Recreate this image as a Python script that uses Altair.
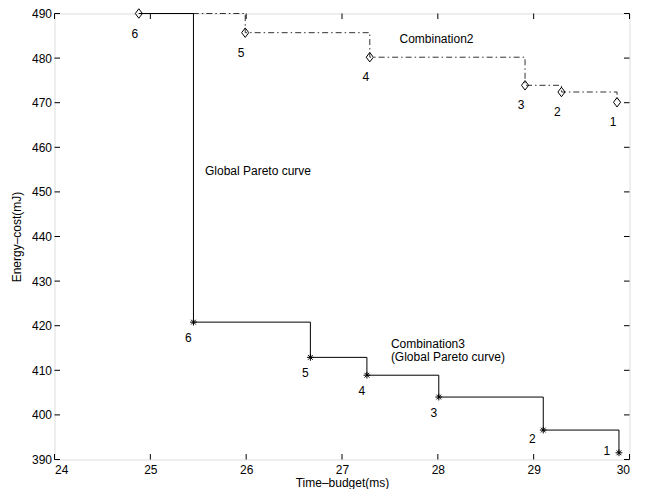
import altair as alt
import pandas as pd

# Combination2 (diamonds)
c2_time = [24.88, 25.99, 27.29, 28.91, 29.29, 29.87]
c2_energy = [490.0, 485.7, 480.2, 473.9, 472.4, 470.1]
c2_ids = ["6", "5", "4", "3", "2", "1"]

# Combination3 / Global Pareto curve (asterisks)
c3_time = [25.45, 26.67, 27.26, 28.01, 29.10, 29.89]
c3_energy = [420.8, 412.9, 408.9, 404.0, 396.6, 391.5]
c3_ids = ["6", "5", "4", "3", "2", "1"]

x_ticks = [24, 25, 26, 27, 28, 29, 30]
y_ticks = [390, 400, 410, 420, 430, 440, 450, 460, 470, 480, 490]

notes_text = ["Combination2", "Global Pareto curve", "Combination3\n(Global Pareto curve)"]
notes_time = [27.60, 25.57, 27.51]
notes_energy = [484.2, 454.7, 415.8]

W, H = 575, 446
FONT = "Liberation Sans"
TL = 5.5

c2 = pd.DataFrame({"t": c2_time, "e": c2_energy, "id": c2_ids})
c3 = pd.DataFrame({"t": c3_time, "e": c3_energy, "id": c3_ids})
link = pd.DataFrame({"t": [c2_time[0], c3_time[0]], "e": [c2_energy[0], c3_energy[0]]})
notes = pd.DataFrame({"t": notes_time, "e": notes_energy, "txt": notes_text})
xt = pd.DataFrame({"t": x_ticks})
yt = pd.DataFrame({"e": y_ticks})

xs = alt.Scale(domain=[24, 30], nice=False, zero=False)
ys = alt.Scale(domain=[390, 490], nice=False, zero=False)

axis_common = dict(grid=False, ticks=False, domain=False,
                   labelFont=FONT, labelFontSize=12, labelColor="black",
                   titleFont=FONT, titleFontSize=12, titleFontWeight="normal",
                   titleColor="black")

X = alt.X("t:Q", scale=xs, axis=alt.Axis(
    values=x_ticks, title="Time\u2013budget(ms)", labelPadding=4.5,
    titleX=W / 2, titleY=22.5, titleBaseline="middle", **axis_common))
Y = alt.Y("e:Q", scale=ys, axis=alt.Axis(
    values=y_ticks, title="Energy\u2013cost(mJ)", labelPadding=3,
    titleX=-38, titleY=H / 2, titleBaseline="middle", **axis_common))

diamond = "M0,-1L0.75,0L0,1L-0.75,0Z"
aster = "M0,-1L0,1M-1,0L1,0M-0.7,-0.7L0.7,0.7M-0.7,0.7L0.7,-0.7"

base2 = alt.Chart(c2)
base3 = alt.Chart(c3)

c2_line = base2.mark_line(interpolate="step-after", color="#333333", strokeWidth=1,
                          strokeDash=[6, 3, 1.5, 3]).encode(x=X, y=Y)
link_line = alt.Chart(link).mark_line(interpolate="step-after", color="black",
                                      strokeWidth=1).encode(x=X, y=Y)
c3_line = base3.mark_line(interpolate="step-after", color="black",
                          strokeWidth=1).encode(x=X, y=Y)

c2_pts = base2.mark_point(shape=diamond, size=90, filled=False, color="black",
                          strokeWidth=1, opacity=1).encode(x=X, y=Y)
c3_pts = base3.mark_point(shape=aster, size=46, filled=False, color="black",
                          strokeWidth=1, opacity=1).encode(x=X, y=Y)

txt_kw = dict(font=FONT, fontSize=12, color="black")
c2_lab = base2.mark_text(dx=-4, dy=20, **txt_kw).encode(x=X, y=Y, text="id:N")
c3_lab_a = base3.transform_filter(
    alt.FieldOneOfPredicate(field="id", oneOf=["6", "5", "4", "3"])
).mark_text(dx=-5, dy=16, **txt_kw).encode(x=X, y=Y, text="id:N")
c3_lab_b = base3.transform_filter(alt.datum.id == "2").mark_text(
    dx=-11, dy=9, **txt_kw).encode(x=X, y=Y, text="id:N")
c3_lab_c = base3.transform_filter(alt.datum.id == "1").mark_text(
    dx=-12, dy=-2, **txt_kw).encode(x=X, y=Y, text="id:N")

note_layer = alt.Chart(notes).mark_text(
    align="left", baseline="middle", lineBreak="\n", lineHeight=12.5, **txt_kw
).encode(x=X, y=Y, text="txt:N")

tick_b = alt.Chart(xt).mark_rule(color="black", strokeWidth=1).encode(
    x=X, y=alt.value(H), y2=alt.value(H - TL))
tick_t = alt.Chart(xt).mark_rule(color="black", strokeWidth=1).encode(
    x=X, y=alt.value(0), y2=alt.value(TL))
tick_l = alt.Chart(yt).mark_rule(color="black", strokeWidth=1).encode(
    y=Y, x=alt.value(0), x2=alt.value(TL))
tick_r = alt.Chart(yt).mark_rule(color="black", strokeWidth=1).encode(
    y=Y, x=alt.value(W), x2=alt.value(W - TL))

chart = alt.layer(
    c2_line, link_line, c3_line, c2_pts, c3_pts,
    c2_lab, c3_lab_a, c3_lab_b, c3_lab_c, note_layer,
    tick_b, tick_t, tick_l, tick_r,
).properties(
    width=W, height=H,
    autosize=alt.AutoSizeParams(type="none"),
    padding={"left": 46.5, "top": 5.5, "right": 13.5, "bottom": 29.5},
).configure_view(
    stroke="black", strokeWidth=1
).configure_axis(
    titleFontWeight="normal"
).configure(background="white")

chart.save("out.html", embed_options={"renderer": "svg", "actions": False})
